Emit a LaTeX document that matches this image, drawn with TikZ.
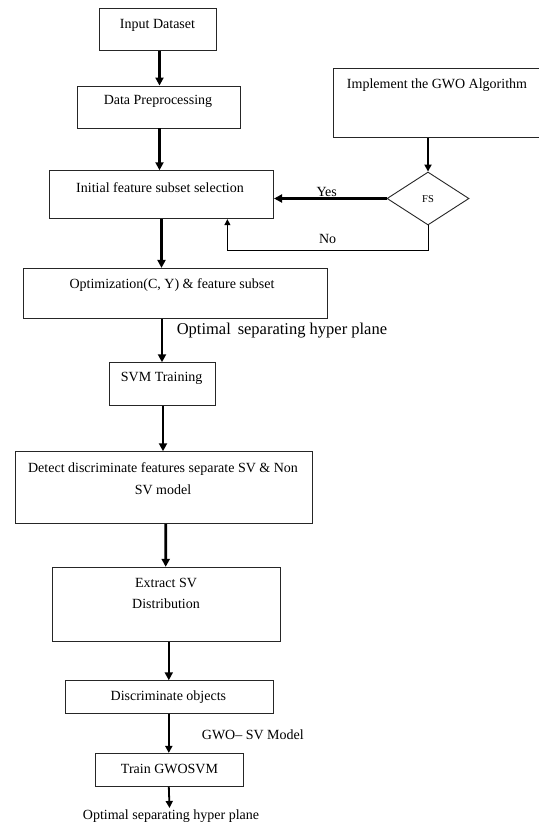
\documentclass[tikz,border=0pt]{standalone}
\usepackage{fontspec}
\setmainfont{Liberation Serif}
\usetikzlibrary{arrows.meta,shapes.geometric}
\begin{document}
\begin{tikzpicture}[x=1pt,y=-1pt,
  box/.style={draw=black!85,line width=0.9pt,rectangle,inner sep=0pt},
  txt/.style={inner sep=0pt,font=\fontsize{14}{16}\selectfont,align=center},
  thick arrow/.style={line width=2.6pt,-{Triangle[length=8pt,width=8pt]}},
  mid arrow/.style={line width=1.8pt,-{Triangle[length=7pt,width=7pt]}},
  thin arrow/.style={line width=1pt,-{Triangle[length=6pt,width=6pt]}}]
\path[fill=white,use as bounding box] (0,0) rectangle (538,827);
% boxes
\node[box,minimum width=117pt,minimum height=41.5pt] (in) at (157.5,29.3) {};
\node[txt] (tin) at (157.5,25) {Input Dataset};
\node[box,minimum width=163pt,minimum height=42pt] (dp) at (158.5,107) {};
\node[txt] (tdp) at (158,101.5) {Data Preprocessing};
\node[box,minimum width=224pt,minimum height=48pt] (ini) at (161.6,194.7) {};
\node[txt] (tini) at (160,188) {Initial feature subset selection};
\node[box,minimum width=220pt,minimum height=69pt] (gwo) at (443,102.8) {};
\node[txt] (tgwo) at (437,85) {Implement the GWO Algorithm};
\node[box,diamond,minimum width=82pt,minimum height=53pt] (fs) at (428,198.5) {};
\node[txt,font=\fontsize{10.5}{12}\selectfont] (tfs) at (428,199) {FS};
\node[box,minimum width=303.7pt,minimum height=49.7pt] (opt) at (175.2,293.2) {};
\node[txt] (topt) at (172,285) {Optimization(C, Y) \& feature subset};
\node[box,minimum width=106.7pt,minimum height=42.6pt] (svm) at (162.4,384) {};
\node[txt] (tsvm) at (161.7,378) {SVM Training};
\node[box,minimum width=297pt,minimum height=71.6pt] (det) at (163.5,487.5) {};
\node[txt] (tdet1) at (163,469) {Detect discriminate features separate SV \& Non};
\node[txt] (tdet2) at (163,490) {SV model};
\node[box,minimum width=228pt,minimum height=74.4pt] (ext) at (166.6,604.5) {};
\node[txt] (text1) at (166,583) {Extract SV};
\node[txt] (text2) at (166,604) {Distribution};
\node[box,minimum width=208.4pt,minimum height=32.6pt] (dis) at (169.2,697) {};
\node[txt] (tdis) at (168.4,697) {Discriminate objects};
\node[box,minimum width=148pt,minimum height=32.7pt] (trn) at (169.5,769.7) {};
\node[txt] (ttrn) at (169.5,769) {Train GWOSVM};
\node[txt,font=\fontsize{14}{16}\selectfont] (out) at (171,816.5) {Optimal separating hyper plane};
% labels
\node[txt,anchor=west,font=\fontsize{16.5}{18}\selectfont] (lopt) at (176.6,331) {Optimal\, separating hyper plane};
\node[txt,anchor=west] (lgwo) at (201.7,735) {GWO– SV Model};
\node[txt] (lyes) at (326.7,191.7) {Yes};
\node[txt] (lno) at (327.6,239.3) {No};
% connectors
\draw[thick arrow] ([xshift=2pt]in.south) -- ([xshift=1pt]dp.north);
\draw[thick arrow] ([xshift=1pt]dp.south) -- ([xshift=-2.1pt]ini.north);
\draw[thick arrow] ([xshift=-0.1pt]ini.south) -- ([xshift=-13.7pt]opt.north);
\draw[thick arrow] ([xshift=-13.2pt]opt.south) -- ([xshift=-0.4pt]svm.north);
\draw[thick arrow] ([xshift=0.6pt]svm.south) -- ([xshift=-0.5pt]det.north);
\draw[thick arrow] ([xshift=2.2pt]det.south) -- ([xshift=-0.9pt]ext.north);
\draw[thick arrow] ([xshift=2.2pt]ext.south) -- ([xshift=-0.4pt]dis.north);
\draw[mid arrow] ([xshift=-0.4pt]dis.south) -- ([xshift=-0.7pt]trn.north);
\draw[mid arrow] ([xshift=-0.7pt]trn.south) -- ([yshift=2pt]out.north -| trn.south);
\draw[mid arrow] (gwo.south -| fs.north) -- (fs.north);
\draw[thick arrow] (fs.west) -- (fs.west -| ini.east);
\draw[thin arrow] (fs.south) -- ++(0,25) -| ([xshift=65.8pt]ini.south);
\end{tikzpicture}
\end{document}
